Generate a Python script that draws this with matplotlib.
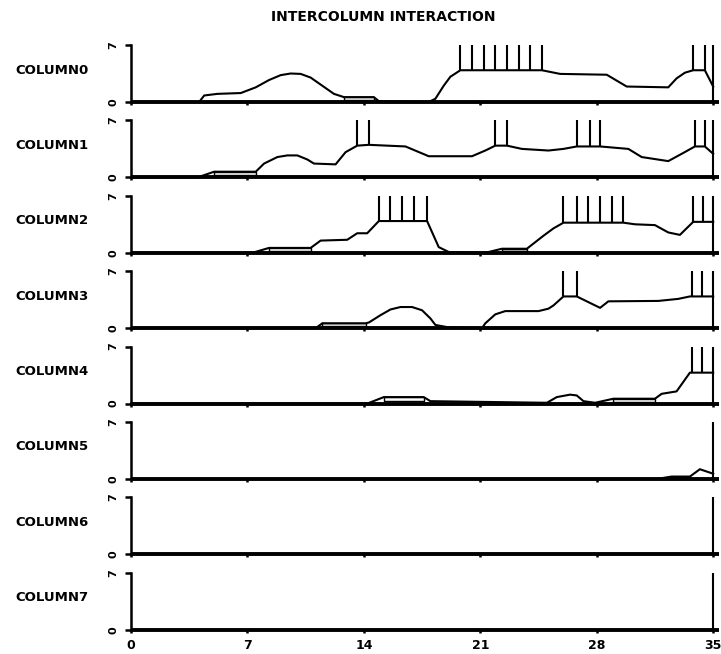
import numpy as np
import matplotlib
matplotlib.use("Agg")
import matplotlib.pyplot as plt

# ---- data ----
TITLE = "INTERCOLUMN INTERACTION"
NAMES = ["COLUMN0", "COLUMN1", "COLUMN2", "COLUMN3",
         "COLUMN4", "COLUMN5", "COLUMN6", "COLUMN7"]
X_TICKS = [0, 7, 14, 21, 28, 35]
Y_TICKS = [0, 7]
T_END = 35
SPIKE_TOP = 7

x0 = [0, 4.1, 4.4, 5.2, 6.6, 7.5, 8.3, 9.0, 9.6, 10.2, 10.8, 11.5, 12.2, 12.8,
      14.6, 14.9, 17.9, 18.3, 18.8, 19.2, 19.8, 24.7, 25.8, 28.6, 29.8, 32.3,
      32.8, 33.3, 33.8, 34.5, 35]
y0 = [0, 0, 0.8, 1.0, 1.1, 1.8, 2.7, 3.3, 3.5, 3.45, 3.0, 2.0, 1.0, 0.6,
      0.6, 0.1, 0, 0.4, 2.0, 3.1, 3.9, 3.9, 3.45, 3.35, 1.9, 1.8,
      2.9, 3.6, 3.9, 3.9, 1.9]
s0 = [19.8, 20.5, 21.2, 21.9, 22.6, 23.3, 24.0, 24.7, 33.8, 34.5]

x1 = [0, 4.0, 5.0, 7.5, 8.0, 8.8, 9.4, 10.0, 10.6, 11.0, 12.3, 12.9, 13.6,
      14.3, 16.5, 17.9, 20.5, 21.3, 21.9, 22.6, 23.5, 25.1, 26.0, 26.8, 28.2,
      29.9, 30.7, 32.3, 33.2, 33.9, 34.5, 35]
y1 = [0, 0, 0.7, 0.7, 1.7, 2.5, 2.7, 2.7, 2.2, 1.7, 1.6, 3.1, 3.9,
      4.0, 3.8, 2.6, 2.6, 3.3, 3.9, 3.9, 3.5, 3.3, 3.5, 3.8, 3.8,
      3.5, 2.5, 2.0, 3.0, 3.8, 3.8, 2.9]
s1 = [13.6, 14.3, 21.9, 22.6, 26.8, 27.6, 28.2, 33.9, 34.5]

x2 = [0, 7.3, 8.3, 10.8, 11.4, 13.0, 13.6, 14.2, 14.9, 17.8, 18.5, 19.1, 21.3,
      22.3, 23.8, 24.8, 25.4, 26.0, 29.6, 30.3, 31.5, 32.3, 33.0, 33.8, 35]
y2 = [0, 0, 0.6, 0.6, 1.5, 1.6, 2.4, 2.4, 3.9, 3.9, 0.7, 0.1, 0,
      0.5, 0.5, 2.1, 3.0, 3.7, 3.7, 3.5, 3.4, 2.5, 2.2, 3.8, 3.8]
s2 = [14.9, 15.6, 16.3, 17.0, 17.8, 26.0, 26.8, 27.5, 28.2, 28.9, 29.6, 33.8, 34.4]

x3 = [0, 11.1, 11.5, 14.1, 14.3, 15.0, 15.6, 16.2, 16.9, 17.5, 18.0, 18.3, 19.1,
      21.1, 21.3, 21.9, 22.5, 24.5, 25.1, 25.4, 26.0, 26.8, 28.2, 28.7, 31.7,
      32.9, 33.6, 35]
y3 = [0, 0, 0.6, 0.6, 0.7, 1.6, 2.3, 2.6, 2.6, 2.2, 1.2, 0.4, 0.1,
      0, 0.6, 1.7, 2.1, 2.1, 2.4, 2.8, 3.9, 3.9, 2.5, 3.3, 3.35,
      3.6, 3.9, 3.9]
s3 = [26.0, 26.8, 33.7, 34.3]

x4 = [0, 14.2, 15.2, 17.6, 18.0, 25.0, 25.6, 26.4, 26.8, 27.2, 27.9, 29.0,
      31.5, 31.9, 32.8, 33.6, 35]
y4 = [0, 0, 0.8, 0.8, 0.3, 0.1, 0.8, 1.1, 1.0, 0.3, 0.1, 0.6,
      0.6, 1.2, 1.5, 3.8, 3.8]
s4 = [33.7, 34.3]

x5 = [0, 31.6, 32.5, 33.6, 34.2, 35]
y5 = [0, 0, 0.3, 0.3, 1.2, 0.65]
s5 = []

x6 = [0, 35]
y6 = [0, 0]
s6 = []

x7 = [0, 35]
y7 = [0, 0]
s7 = []

# hollow low segments: (start, end, low, high)
hollow0 = [(12.8, 14.6, 0.3, 0.6)]
hollow1 = [(5.0, 7.5, 0.3, 0.7)]
hollow2 = [(8.3, 10.8, 0.25, 0.6), (22.3, 23.8, 0.25, 0.5)]
hollow3 = [(11.5, 14.1, 0.25, 0.6)]
hollow4 = [(15.2, 17.6, 0.35, 0.8), (29.0, 31.5, 0.2, 0.6)]
hollow5 = [(32.5, 33.6, 0.1, 0.3)]
hollow6 = []
hollow7 = []

XS = [x0, x1, x2, x3, x4, x5, x6, x7]
YS = [y0, y1, y2, y3, y4, y5, y6, y7]
SPIKES = [s0, s1, s2, s3, s4, s5, s6, s7]
HOLLOW = [hollow0, hollow1, hollow2, hollow3, hollow4, hollow5, hollow6, hollow7]

# ---- layout (pixels) ----
W, H = 721, 654
LEFT, RIGHT = 131, 719
TOP0, STEP, PH = 45, 75.4, 57

fig = plt.figure(figsize=(W / 100, H / 100), dpi=100)
fig.text(383 / W, 1 - 17 / H, TITLE, ha="center", va="center",
         fontsize=10, fontweight="bold", family="DejaVu Sans")

for i, name in enumerate(NAMES):
    top = TOP0 + STEP * i
    ax = fig.add_axes([LEFT / W, 1 - (top + PH) / H, (RIGHT - LEFT) / W, PH / H])
    ax.set_xlim(0, 35.35)
    ax.set_ylim(0, 7)
    for s in ("top", "right"):
        ax.spines[s].set_visible(False)
    ax.spines["left"].set_linewidth(1.8)
    ax.spines["bottom"].set_linewidth(2.8)
    ax.spines["bottom"].set_capstyle("butt")

    xs, ys = np.array(XS[i]), np.array(YS[i])
    ax.plot(xs, ys, color="black", lw=1.5, solid_joinstyle="round", clip_on=False)
    if SPIKES[i]:
        sx = np.array(SPIKES[i])
        ax.vlines(sx, np.interp(sx, xs, ys), SPIKE_TOP, color="black", lw=1.5)
    ax.vlines(T_END, 0, SPIKE_TOP, color="black", lw=1.5)
    for a, b, lo, hi in HOLLOW[i]:
        ax.plot([a, a, b, b, a], [hi, lo, lo, hi, hi], color="black", lw=1.0)

    ax.set_yticks(Y_TICKS)
    ax.set_yticklabels([str(v) for v in Y_TICKS], rotation=90, va="center",
                       fontsize=8, fontweight="bold")
    ax.tick_params(axis="y", direction="out", length=4, width=1.8, pad=5)
    ax.set_xticks(X_TICKS)
    ax.tick_params(axis="x", direction="out", length=2.5, width=1.8, pad=4)
    if i == len(NAMES) - 1:
        ax.set_xticklabels([str(v) for v in X_TICKS], fontsize=9, fontweight="bold")
    else:
        ax.set_xticklabels([])

    fig.text(15 / W, 1 - (top + 25) / H, name, ha="left", va="center",
             fontsize=9.5, fontweight="bold", family="DejaVu Sans")

fig.savefig("out.png", dpi=100)
